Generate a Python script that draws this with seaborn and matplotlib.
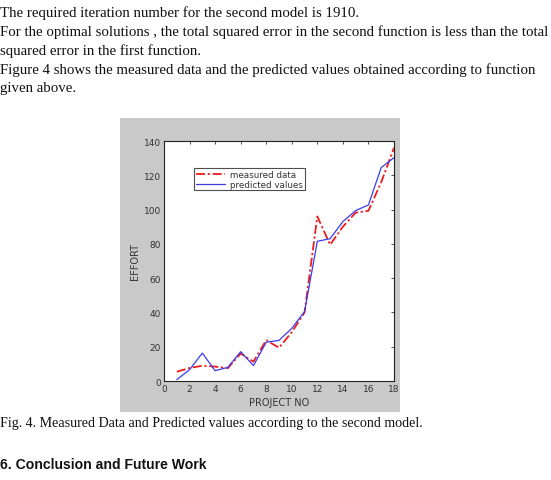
import matplotlib
matplotlib.use("Agg")
import matplotlib.pyplot as plt
import seaborn as sns
import numpy as np
import pandas as pd
from matplotlib.patches import Rectangle
from matplotlib import font_manager

projects = list(range(1, 19))
measured = [5.4, 7.6, 8.9, 8.4, 7.5, 16.0, 11.3, 23.8, 19.4, 28.5, 40.0, 96.0, 79.5, 90.0, 98.2, 99.3, 116.0, 136.0]
predicted = [0.8, 6.6, 16.3, 6.0, 8.0, 17.1, 9.0, 22.6, 23.7, 30.7, 40.5, 81.5, 83.0, 93.0, 99.4, 102.7, 124.5, 130.3]
xticks = list(range(0, 19, 2))
yticks = list(range(0, 141, 20))

text_lines = [
    "The required iteration number for the second model is 1910.",
    "For the optimal solutions , the total squared error in the second function is less than the total",
    "squared error in the first function.",
    "Figure 4 shows the measured data and the predicted values obtained according to function",
    "given above.",
]
caption = "Fig. 4. Measured Data and Predicted values according to the second model."
heading = "6. Conclusion and Future Work"

sns.set_style("white")
available = {f.name for f in font_manager.fontManager.ttflist}
narrow = "Liberation Sans Narrow" if "Liberation Sans Narrow" in available else "DejaVu Sans"

W, H = 551, 481
fig = plt.figure(figsize=(W / 100, H / 100), dpi=100)
fig.patch.set_facecolor("white")

fig.patches.append(Rectangle((120 / W, 1 - 413 / H), 280 / W, 294 / H,
                             transform=fig.transFigure, facecolor="#c9c9c9",
                             edgecolor="none", zorder=0))

ax = fig.add_axes([164 / W, 1 - 382 / H, 230 / W, 240 / H])
ax.set_facecolor("white")
ax.set_zorder(1)

df = pd.DataFrame({"project": projects, "measured": measured, "predicted": predicted})
sns.lineplot(data=df, x="project", y="measured", ax=ax, color="#ee1c1c",
             linestyle=(0, (5, 1.5, 1.2, 1.5)), linewidth=1.3, label="measured data")
sns.lineplot(data=df, x="project", y="predicted", ax=ax, color="#3b3bee",
             linestyle="-", linewidth=0.9, label="predicted values")

ax.set_xlim(0, 18)
ax.set_ylim(0, 140)
ax.set_xticks(xticks)
ax.set_yticks(yticks)
ax.set_xticklabels([str(t) for t in xticks], family=narrow)
ax.set_yticklabels([str(t) for t in yticks], family=narrow)
ax.tick_params(direction="in", length=2.5, width=0.6, labelsize=6.5, color="#333333",
               top=True, right=True, pad=2, labelcolor="#333333")
for s in ax.spines.values():
    s.set_visible(True)
    s.set_color("#222222")
    s.set_linewidth(0.8)
ax.set_xlabel("PROJECT NO", fontsize=7, color="#333333", labelpad=3, family=narrow)
ax.set_ylabel("EFFORT", fontsize=7, color="#333333", labelpad=3, family=narrow)

leg = ax.legend(loc="upper left", bbox_to_anchor=(30 / 230, 1 - 27 / 240),
                prop={"family": narrow, "size": 6.3}, frameon=True, fancybox=False, borderpad=0.2,
                handlelength=3.3, labelspacing=0.1, borderaxespad=0, handletextpad=0.6)
leg.get_frame().set_edgecolor("#222222")
leg.get_frame().set_linewidth(0.8)
for t in leg.get_texts():
    t.set_color("#333333")

serif = ["Liberation Serif", "DejaVu Serif"]
ys = [13, 32, 51, 70, 89]
for line, y in zip(text_lines, ys):
    fig.text(0 / W, 1 - y / H, line, fontsize=10.7, family=serif, va="center", ha="left", color="#111111")
fig.text(0, 1 - 424 / H, caption, fontsize=10.1, family=serif, va="center", ha="left", color="#111111")
fig.text(0, 1 - 465 / H, heading, fontsize=10.1, family=["Liberation Sans", "DejaVu Sans"],
         weight="bold", va="center", ha="left", color="#111111")

fig.savefig("out.png", dpi=100, facecolor="white")
